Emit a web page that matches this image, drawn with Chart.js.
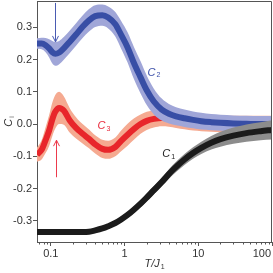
<!DOCTYPE html>
<html>
<head>
<meta charset="utf-8">
<script src="https://cdn.jsdelivr.net/npm/chart.js@4.4.1/dist/chart.umd.min.js"></script>
<style>
  html, body { margin: 0; padding: 0; background: #fff; }
  canvas { display: block; }
</style>
</head>
<body>
<canvas id="corrChart" width="273" height="273"></canvas>
<script>
// temperatures T/J1 (log axis) shared by all three curves
const temps = [0.065, 0.075, 0.085, 0.095, 0.105, 0.115, 0.13, 0.15, 0.18, 0.22, 0.27, 0.33, 0.4, 0.5, 0.6, 0.75, 0.9, 1.1, 1.35, 1.65, 2, 2.5, 3.2, 4, 5, 6.5, 8.5, 11, 15, 20, 30, 45, 70, 100];

// C1 (black)
const c1 = [-0.335, -0.335, -0.335, -0.335, -0.335, -0.335, -0.335, -0.335, -0.335, -0.335, -0.335, -0.334, -0.33, -0.324, -0.317, -0.307, -0.296, -0.282, -0.265, -0.247, -0.228, -0.205, -0.18, -0.155, -0.133, -0.11, -0.09, -0.074, -0.058, -0.047, -0.036, -0.028, -0.022, -0.018];
const c1Err = [0.004, 0.004, 0.004, 0.004, 0.004, 0.004, 0.004, 0.004, 0.004, 0.004, 0.004, 0.004, 0.004, 0.005, 0.006, 0.007, 0.008, 0.009, 0.01, 0.011, 0.012, 0.013, 0.014, 0.015, 0.016, 0.017, 0.018, 0.019, 0.021, 0.023, 0.025, 0.027, 0.028, 0.03];

// C2 (blue)
const c2 = [0.25, 0.25, 0.245, 0.235, 0.223, 0.218, 0.222, 0.235, 0.255, 0.278, 0.302, 0.322, 0.335, 0.338, 0.331, 0.31, 0.277, 0.238, 0.188, 0.145, 0.105, 0.07, 0.045, 0.032, 0.024, 0.018, 0.013, 0.009, 0.006, 0.004, 0.002, 0.001, 0, 0];
const c2Err = [0.016, 0.018, 0.022, 0.028, 0.035, 0.037, 0.036, 0.035, 0.035, 0.035, 0.035, 0.035, 0.034, 0.033, 0.034, 0.038, 0.043, 0.047, 0.05, 0.05, 0.046, 0.04, 0.034, 0.03, 0.028, 0.027, 0.026, 0.026, 0.025, 0.025, 0.025, 0.025, 0.025, 0.025];

// C3 (red)
const c3 = [-0.095, -0.08, -0.05, -0.02, 0.015, 0.038, 0.05, 0.042, 0.012, -0.012, -0.03, -0.046, -0.063, -0.077, -0.08, -0.071, -0.052, -0.033, -0.015, 0, 0.01, 0.016, 0.019, 0.018, 0.014, 0.01, 0.006, 0.004, 0.002, 0.001, 0, 0, 0, 0];
const c3Err = [0.022, 0.03, 0.04, 0.048, 0.052, 0.052, 0.05, 0.044, 0.038, 0.033, 0.03, 0.029, 0.028, 0.028, 0.028, 0.029, 0.032, 0.034, 0.033, 0.03, 0.028, 0.027, 0.026, 0.026, 0.026, 0.026, 0.026, 0.026, 0.026, 0.026, 0.026, 0.026, 0.026, 0.026];

// axes
const xMajor = [0.1, 1, 10, 100];
const xMajorLabels = ["0.1", "1", "10", "100"];
const xMinor = [0.07, 0.08, 0.09, 0.2, 0.3, 0.4, 0.5, 0.6, 0.7, 0.8, 0.9, 2, 3, 4, 5, 6, 7, 8, 9, 20, 30, 40, 50, 60, 70, 80, 90];
const yTicks = [-0.3, -0.2, -0.1, 0, 0.1, 0.2, 0.3];

const AXIS = "#555";
const FONT = '"Liberation Sans", Arial, sans-serif';

// builds upper edge, lower edge (filled to upper) and the centre line for one curve
function curveSets(vals, err, lineColor, bandColor, order) {
  const pts = f => temps.map((t, i) => ({ x: t, y: f(i) }));
  const common = { pointRadius: 0, cubicInterpolationMode: "monotone" };
  return [
    { ...common, data: pts(i => vals[i] + err[i]), borderWidth: 0, borderColor: "transparent", fill: false, order: order + 2 },
    { ...common, data: pts(i => vals[i] - err[i]), borderWidth: 0, borderColor: "transparent", fill: "-1", backgroundColor: bandColor, order: order + 1 },
    { ...common, data: pts(i => vals[i]), borderWidth: 6, borderColor: lineColor, fill: false, order: order }
  ];
}

function subText(ctx, main, sub, px, py, color, align) {
  ctx.fillStyle = color;
  ctx.textBaseline = "middle";
  ctx.textAlign = "left";
  ctx.font = "italic 11px " + FONT;
  const w1 = ctx.measureText(main).width;
  ctx.font = "7px " + FONT;
  const w2 = ctx.measureText(sub).width;
  let x0 = px;
  if (align === "center") x0 = px - (w1 + w2 + 1) / 2;
  ctx.font = "italic 11px " + FONT;
  ctx.fillText(main, x0, py);
  ctx.font = "7px " + FONT;
  ctx.fillText(sub, x0 + w1 + 1, py + 3);
}

function arrow(ctx, px, yFrom, yTip, color) {
  const dir = yTip > yFrom ? 1 : -1;
  ctx.strokeStyle = color;
  ctx.lineWidth = 1;
  ctx.beginPath();
  ctx.moveTo(px, yFrom);
  ctx.lineTo(px, yTip);
  ctx.moveTo(px - 3, yTip - dir * 6);
  ctx.lineTo(px, yTip);
  ctx.lineTo(px + 3, yTip - dir * 6);
  ctx.stroke();
}

const overlay = {
  id: "overlay",
  afterDraw(chart) {
    const { ctx, chartArea: a, scales: { x, y } } = chart;
    ctx.save();

    // top and right frame
    ctx.strokeStyle = AXIS;
    ctx.lineWidth = 1;
    ctx.beginPath();
    ctx.moveTo(a.left, a.top + 0.5);
    ctx.lineTo(a.right - 0.5, a.top + 0.5);
    ctx.lineTo(a.right - 0.5, a.bottom);
    ctx.stroke();

    // minor ticks on the log axis
    ctx.beginPath();
    xMinor.forEach(v => {
      const px = Math.round(x.getPixelForValue(v)) + 0.5;
      ctx.moveTo(px, a.bottom);
      ctx.lineTo(px, a.bottom + 2.5);
    });
    ctx.stroke();

    // x tick labels (last one kept inside the canvas)
    ctx.fillStyle = "#333";
    ctx.font = "11px " + FONT;
    ctx.textBaseline = "top";
    ctx.textAlign = "center";
    xMajor.forEach((v, i) => {
      const txt = xMajorLabels[i];
      const w = ctx.measureText(txt).width;
      const px = Math.min(x.getPixelForValue(v), chart.width - 2 - w / 2);
      ctx.fillText(txt, px, a.bottom + 6);
    });

    // axis titles
    subText(ctx, "T/J", "1", (a.left + a.right) / 2, a.bottom + 22, "#333", "center");
    ctx.save();
    ctx.translate(9, (a.top + a.bottom) / 2);
    ctx.rotate(-Math.PI / 2);
    subText(ctx, "C", "i", 0, 0, "#333", "center");
    ctx.restore();

    // curve labels
    subText(ctx, "C", "2", x.getPixelForValue(2.05), y.getPixelForValue(0.16), "#3a4ea8", "left");
    subText(ctx, "C", "3", x.getPixelForValue(0.43), y.getPixelForValue(-0.006), "#e8283a", "left");
    subText(ctx, "C", "1", x.getPixelForValue(3.26), y.getPixelForValue(-0.093), "#222", "left");

    // arrows marking the low-T feature
    arrow(ctx, Math.round(x.getPixelForValue(0.113)) + 0.5, y.getPixelForValue(0.376), y.getPixelForValue(0.255), "#4a5bb2");
    arrow(ctx, Math.round(x.getPixelForValue(0.116)) + 0.5, y.getPixelForValue(-0.165), y.getPixelForValue(-0.05), "#ec3a4c");

    ctx.restore();
  }
};

const datasets = [
  ...curveSets(c1, c1Err, "#1b1b1b", "#8c8c8c", 0),
  ...curveSets(c2, c2Err, "#384ea5", "#a0a6d8", 3),
  ...curveSets(c3, c3Err, "#e8262b", "#f5aa91", 6)
];

new Chart(document.getElementById("corrChart").getContext("2d"), {
  type: "line",
  data: { datasets },
  options: {
    responsive: false,
    animation: false,
    devicePixelRatio: 1,
    layout: { padding: { top: 1, right: 1, left: 0, bottom: 0 } },
    plugins: { legend: { display: false }, tooltip: { enabled: false } },
    scales: {
      x: {
        type: "logarithmic",
        min: 0.065,
        max: 100,
        border: { color: AXIS, width: 1 },
        grid: { drawOnChartArea: false, tickLength: 4, color: AXIS },
        ticks: { display: false, autoSkip: false },
        afterBuildTicks: s => { s.ticks = xMajor.map(v => ({ value: v, major: true })); },
        afterFit: s => { s.height = 31; s.paddingLeft = 0; s.paddingRight = 0; }
      },
      y: {
        min: -0.366,
        max: 0.382,
        border: { color: AXIS, width: 1 },
        grid: { drawOnChartArea: false, tickLength: 4, color: AXIS },
        ticks: {
          padding: 1,
          color: "#333",
          font: { family: FONT, size: 11 },
          callback: v => Number(v).toFixed(1)
        },
        afterBuildTicks: s => { s.ticks = yTicks.map(v => ({ value: v })); },
        afterFit: s => { s.width = 37; s.paddingTop = 0; s.paddingBottom = 0; }
      }
    }
  },
  plugins: [overlay]
});
</script>
</body>
</html>
